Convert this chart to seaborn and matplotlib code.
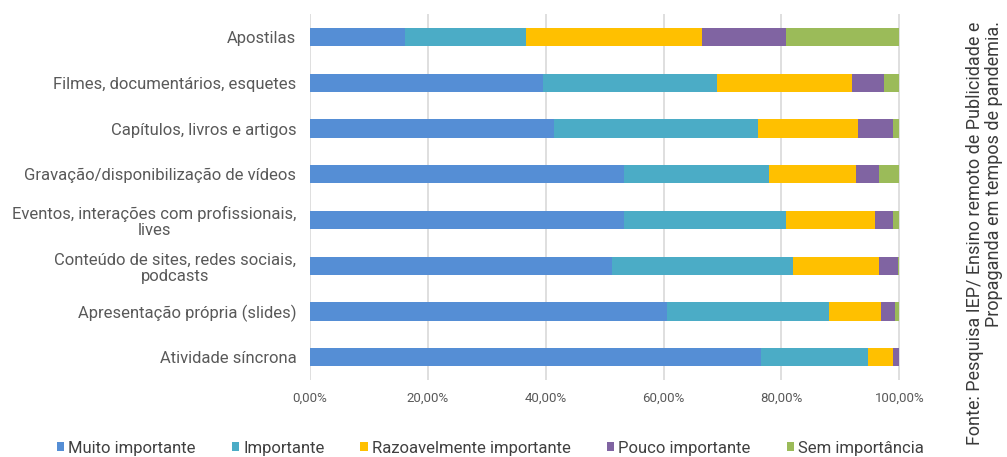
import matplotlib
matplotlib.use("Agg")
import matplotlib.pyplot as plt
import seaborn as sns
import pandas as pd
import numpy as np
from matplotlib.patches import Patch
from matplotlib.ticker import FuncFormatter

categories = [
    "Apostilas",
    "Filmes, documentários, esquetes",
    "Capítulos, livros e artigos",
    "Gravação/disponibilização de vídeos",
    "Eventos, interações com profissionais,\nlives",
    "Conteúdo de sites, redes sociais,\npodcasts",
    "Apresentação própria (slides)",
    "Atividade síncrona",
]
series_names = ["Muito importante", "Importante", "Razoavelmente importante",
                "Pouco importante", "Sem importância"]
muito = [16.1, 39.5, 41.4, 53.2, 53.2, 51.2, 60.5, 76.6]
importante = [20.5, 29.5, 34.6, 24.7, 27.6, 30.7, 27.5, 18.0]
razoavel = [29.9, 22.9, 17.0, 14.7, 15.0, 14.6, 8.9, 4.3]
pouco = [14.3, 5.5, 5.9, 3.9, 3.1, 3.2, 2.4, 1.1]
sem = [19.2, 2.6, 1.1, 3.5, 1.1, 0.3, 0.7, 0.0]
colors = ["#558ED5", "#4BACC6", "#FFC000", "#8064A2", "#9BBB59"]
tick_vals = [0, 20, 40, 60, 80, 100]

sns.set_theme(style="white")
plt.rcParams['font.family'] = ['Roboto', 'DejaVu Sans']

df = pd.DataFrame({"cat": categories, "s0": muito, "s1": importante,
                   "s2": razoavel, "s3": pouco, "s4": sem})
vals = df[["s0", "s1", "s2", "s3", "s4"]].to_numpy()
cum = np.cumsum(vals, axis=1)

fig = plt.figure(figsize=(10.07, 4.57), dpi=100)
ax = fig.add_axes([0.308, 0.168, 0.588, 0.801])

for i in range(4, -1, -1):
    d = pd.DataFrame({"cat": categories, "v": cum[:, i]})
    sns.barplot(data=d, x="v", y="cat", orient="h", color=colors[i],
                width=0.4, saturation=1, linewidth=0, ax=ax, zorder=3)

ax.set_xlim(0, 100.5)
ax.set_xticks(tick_vals)
ax.xaxis.set_major_formatter(FuncFormatter(lambda v, p: f"{v:.2f}%".replace(".", ",")))
ax.grid(axis="x", color="#d9d9d9", linewidth=1.2, zorder=0)
ax.grid(axis="y", visible=False)
for s in ax.spines.values():
    s.set_visible(False)
ax.set_xlabel("")
ax.set_ylabel("")
ax.tick_params(axis="x", length=0, pad=8, labelsize=9.5, labelcolor="#595959")
ax.tick_params(axis="y", length=0, pad=10, labelsize=12, labelcolor="#595959")
for lbl in ax.get_yticklabels():
    lbl.set_multialignment("center")
    lbl.set_linespacing(1.1)

handles = [Patch(facecolor=c, edgecolor="none") for c in colors]
fig.legend(handles, series_names, loc="lower center", bbox_to_anchor=(0.487, -0.03),
           ncol=5, frameon=False, fontsize=12, handlelength=0.45, handleheight=0.45,
           handletextpad=0.25, columnspacing=2.15, labelcolor="#404040")

fig.text(0.978, 0.49, "Fonte: Pesquisa IEP/ Ensino remoto de Publicidade e\nPropaganda em tempos de pandemia.",
         rotation=90, ha="center", va="center", multialignment="right",
         fontsize=13, fontweight="normal", color="#3a3a3a", linespacing=1.05)

fig.savefig("out.png", dpi=100)
